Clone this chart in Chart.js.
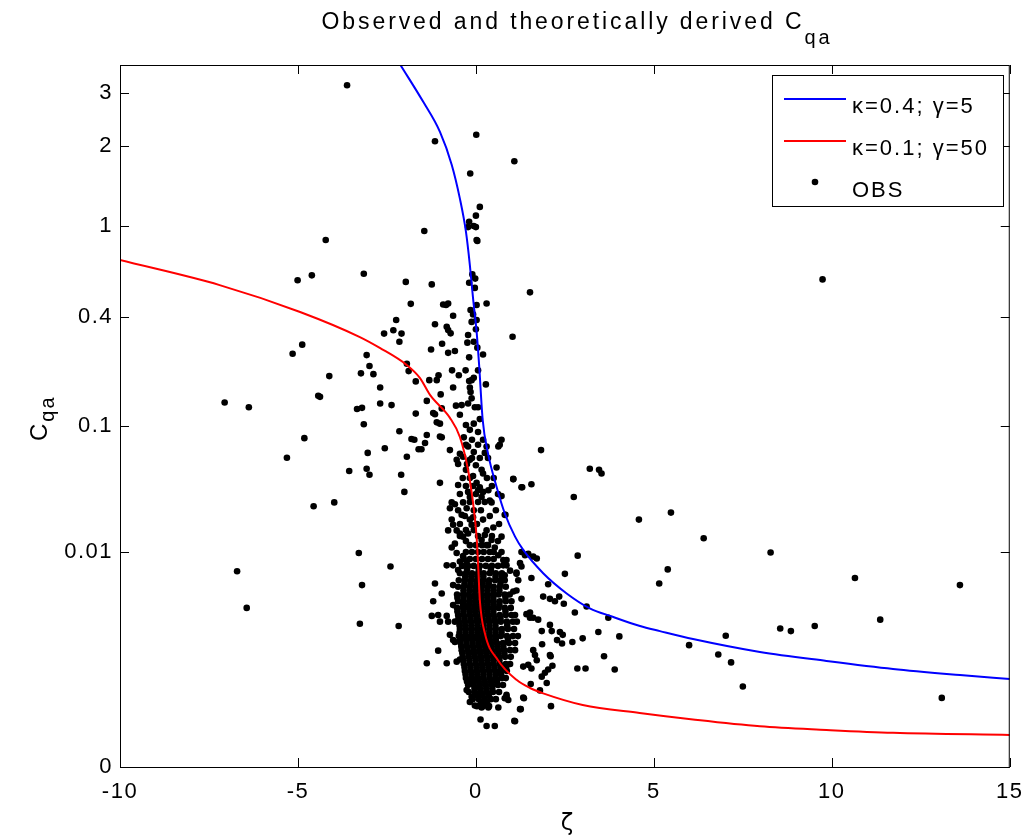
<!DOCTYPE html>
<html>
<head>
<meta charset="utf-8">
<script src="https://cdn.jsdelivr.net/npm/chart.js@4/dist/chart.umd.min.js"></script>
<style>
  html, body { margin: 0; padding: 0; background: #fff; }
  #wrap { width: 1034px; height: 839px; position: relative; }
</style>
</head>
<body>
<div id="wrap"><canvas id="chart"></canvas></div>
<script>
// axis ticks
const xTickValues = [-10, -5, 0, 5, 10, 15];
const xTickLabels = ['-10', '-5', '0', '5', '10', '15'];
const yTickValues = [0, 0.01, 0.1, 0.4, 1, 2, 3];
const yTickLabels = ['0', '0.01', '0.1', '0.4', '1', '2', '3'];

// theoretical curves, [zeta, Cqa]
const blueCurve = [[-2.12,3.68],[-1.48,2.81],[-1.01,2.23],[-0.68,1.71],[-0.45,1.28],[-0.28,0.949],[-0.17,0.688],
  [-0.08,0.488],[0.02,0.337],[0.09,0.227],[0.19,0.109],[0.34,0.0655],[0.58,0.0373],[0.81,0.0227],[1.1,0.014],
  [1.33,0.0104],[1.89,0.0059],[2.55,0.0034],[3.2,0.00217],[3.86,0.00164],[4.61,0.0012],[5.17,0.001],
  [6.1,0.00074],[7.98,0.000434],[9.85,0.000289],[11.72,0.000195],[13.6,0.000142],[15,0.000114]];
const redCurve = [[-10,0.723],[-7.2,0.561],[-4.94,0.421],[-3.26,0.317],[-2.7,0.279],[-1.95,0.227],[-1.57,0.192],
  [-1.29,0.154],[-0.73,0.112],[-0.45,0.0845],[-0.22,0.0499],[-0.08,0.0277],[0.02,0.0139],[0.07,0.0063],
  [0.11,0.0028],[0.25,0.00093],[0.62,0.0003],[1.15,0.000107],[1.52,0.0000664],[1.89,0.0000468],[3.0,0.0000198],
  [4.6,0.0000099],[6.1,0.0000052],[7.98,0.0000024],[9.85,0.0000015],[11.72,0.000001],[15,0.00000073]];

// observations, [zeta, Cqa]
const obsPoints = [
  [-3.62,3.18],[-4.22,0.877],[-5.01,0.59],[-4.61,0.62],[-3.15,0.63],[-1.97,0.58],[-1.83,0.46],[-2.24,0.385],
  [-2.32,0.343],[-2.58,0.33],[-2.09,0.33],[-2.15,0.30],[-4.88,0.29],[-5.15,0.26],[-3.07,0.256],[-2.99,0.224],
  [-3.23,0.204],[-2.88,0.202],[-4.12,0.197],[-1.94,0.23],[-1.89,0.21],[-1.69,0.184],[-2.69,0.17],[-4.43,0.152],
  [-4.38,0.15],[-7.06,0.139],[-6.38,0.13],[-3.34,0.127],[-3.2,0.129],[-2.69,0.137],[-2.37,0.134],[-1.69,0.119],
  [-3.15,0.102],[-2.15,0.092],[-4.82,0.083],[-1.81,0.082],[-1.73,0.081],[-1.61,0.07],[-2.56,0.071],[-3.04,0.066],
  [-5.31,0.061],[-1.94,0.062],[-3.56,0.049],[-3.07,0.051],[-2.99,0.046],[-2.1,0.046],[-2.01,0.034],[-4.56,0.026],
  [-3.98,0.028],[-3.29,0.0097],[-2.4,0.007],[-6.71,0.0062],[-3.2,0.0043],[-6.44,0.0022],[-3.26,0.0013],[-2.17,0.0012],
  [0.01,2.18],[-1.15,2.07],[1.08,1.76],[-0.16,1.59],[-1.45,0.955],[0.11,1.19],[0.0,1.10],[-0.19,1.04],[-0.22,0.99],
  [-0.06,1.0],[0.0,0.99],[0.02,0.877],[0.04,0.87],[-1.24,0.565],[1.52,0.52],[-0.10,0.626],[-0.02,0.60],[-0.19,0.575],
  [-0.03,0.545],[-0.92,0.457],[-0.84,0.454],[-0.78,0.462],[0.3,0.462],[0.02,0.454],[-0.15,0.43],[-0.08,0.41],
  [-0.64,0.404],[-1.15,0.367],[-0.12,0.377],[0.02,0.385],[-0.82,0.357],[-0.78,0.344],[-0.71,0.331],[0.0,0.347],
  [1.03,0.318],[-0.22,0.325],[-0.24,0.297],[-0.06,0.30],[-0.95,0.293],[-1.26,0.274],[-0.78,0.263],[-0.59,0.269],
  [0.04,0.28],[-0.19,0.249],[0.2,0.258],[-0.67,0.212],[-0.29,0.212],[-0.48,0.199],[0.06,0.212],[-1.05,0.199],
  [-1.1,0.187],[-1.31,0.187],[-0.06,0.193],[-0.12,0.187],[-0.19,0.185],[0.28,0.177],[-0.99,0.155],[-0.64,0.17],
  [-0.17,0.17],[-0.15,0.16],[-0.12,0.147],[-1.38,0.142],[-1.2,0.12],[-1.15,0.118],[-0.96,0.128],[-0.56,0.133],
  [-0.4,0.134],[-0.22,0.137],[-0.45,0.117],[-0.03,0.13],[0.06,0.13],[0.11,0.11],
  [-1.1,0.105],[-1.01,0.103],[-1.38,0.087],[-1.43,0.077],[-1.01,0.085],[-0.96,0.084],[-1.53,0.07],[-0.73,0.069],
  [0.67,0.075],[0.63,0.073],[0.2,0.081],[0.3,0.073],[0.25,0.066],[-0.45,0.065],[-0.36,0.062],[-0.54,0.059],
  [0.58,0.052],[1.05,0.043],[1.28,0.037],[-1.01,0.04],[-0.5,0.0385],[0.16,0.05],[0.2,0.047],[0.02,0.04],
  [0.11,0.037],[0.06,0.035],[0.2,0.034],[0.35,0.035],[0.16,0.031],[0.39,0.029],[0.44,0.028],[-0.68,0.028],
  [-0.59,0.027],[-0.73,0.025],[-0.36,0.028],[-0.26,0.025],[-0.4,0.022],[-0.22,0.034],[-0.17,0.031],[0.81,0.022],
  [0.49,0.017],[-0.68,0.02],[-0.64,0.018],[-0.54,0.016],[-0.78,0.016],[-0.45,0.015],[-0.36,0.014],[-0.59,0.012],
  [-0.68,0.011],[-0.17,0.02],[-0.12,0.018],[-0.22,0.015],[-0.08,0.021],[0.2,0.02],[0.3,0.016],[0.25,0.0145],
  [0.16,0.013],[0.3,0.0116],[0.44,0.013],[0.53,0.011],[0.72,0.0099],[0.63,0.0092],[0.86,0.0082],[0.77,0.0072],
  [0.96,0.0063],[0.72,0.0055],[1.14,0.006],[1.19,0.0049],[1.24,0.0076],[1.47,0.0095],[-0.82,0.0072],[-0.64,0.0072],
  [-1.15,0.0045],[-0.64,0.0043],[-0.96,0.0034],[-0.54,0.0097],[-0.36,0.009],[-0.45,0.0079],[-0.26,0.0076],[-0.5,0.0064],
  [-0.28,0.101],[-0.17,0.094],[-0.06,0.103],[0.06,0.091],[-0.34,0.084],[-0.11,0.081],[-0.22,0.073],[-0.06,0.067],
  [-0.17,0.059],[0.0,0.054],[-0.28,0.05],[-0.08,0.045],
  [-0.28,0.075],[0.06,0.075],[-0.11,0.0608],[0.11,0.0608],[0.34,0.0608],[-0.5,0.0551],[-0.25,0.0551],
  [-0.37,0.0435],[-0.17,0.0435],[0.31,0.0435],[0.5,0.0435],[-0.28,0.0378],[-0.08,0.0378],[0.45,0.0378],
  [-0.45,0.0327],[0.0,0.0327],[0.62,0.0327],[-0.17,0.0282],[0.06,0.0282],[0.25,0.0282],
  [-0.5,0.0241],[-0.06,0.0241],[0.14,0.0241],[0.56,0.0241],[-0.31,0.0215],[0.39,0.0215],
  [-0.45,0.0183],[0.03,0.0183],[0.65,0.0183],[-0.28,0.0161],[-0.06,0.0161],[-0.45,0.0142],[0.06,0.0142],
  [0.45,0.0142],[-0.28,0.0127],[0.62,0.0127],
  [-1.2,0.0027],[-0.64,0.0024],[-1.24,0.0017],[-1.06,0.00175],[-0.82,0.0017],[-0.59,0.0014],[-1.01,0.0014],
  [-0.78,0.0014],[-0.73,0.00087],[-0.64,0.00071],[-0.59,0.00066],[-1.06,0.00046],[-1.38,0.00026],[-0.82,0.00026],
  [-0.54,0.00028],[-0.45,0.00031],[-0.26,0.000058],[-0.12,0.000037],[-0.17,0.000025],[-0.03,0.000019],[0.16,0.000016],
  [0.35,0.000016],[0.63,0.000016],[0.13,0.0000052],[0.3,0.0000025],[0.53,0.0000025],[1.1,0.0000043],[1.24,0.000014],
  [1.33,0.000035],[0.86,0.000038],[0.91,0.000029],[1.42,0.0018],[1.52,0.0016],
  [0.72,0.081],[1.83,0.069],[3.2,0.051],[3.46,0.05],[3.53,0.047],[1.05,0.0425],[1.3,0.037],[1.56,0.039],
  [2.75,0.031],[4.58,0.02],[0.72,0.0315],[0.83,0.022],[0.72,0.014],[2.86,0.0091],[1.28,0.0099],[1.38,0.0092],
  [1.61,0.0089],[1.71,0.0085],[0.77,0.0082],[0.86,0.0072],[0.81,0.0056],[1.28,0.007],[1.14,0.0058],[1.56,0.0052],
  [2.5,0.0058],[2.03,0.0044],[1.05,0.0036],[1.14,0.0037],[1.89,0.0031],[2.08,0.0029],[2.22,0.0027],[2.34,0.0031],
  [2.47,0.0025],[1.28,0.0029],[2.78,0.0019],[3.11,0.0023],[3.72,0.0016],[1.52,0.0019],[1.61,0.0016],[1.75,0.0015],
  [2.08,0.00125],[2.13,0.001],[1.85,0.001],[2.36,0.00097],[2.44,0.00087],[2.28,0.00071],[2.42,0.00062],[2.71,0.00066],
  [3.0,0.00076],[3.44,0.00097],[4.03,0.00082],[1.86,0.0006],[2.08,0.00038],[2.1,0.00036],[1.61,0.00047],[1.66,0.00038],
  [1.71,0.0003],[2.15,0.00023],[2.03,0.00019],[1.94,0.00016],[1.85,0.00013],[1.47,0.00024],[1.56,0.0002],[1.33,0.00022],
  [3.6,0.00036],[2.85,0.0002],[3.08,0.0002],[3.9,0.00019],[1.54,0.000085],[1.99,0.00009],[1.8,0.000057],[1.35,0.000033],
  [2.11,0.000018],[1.26,0.000014],[1.08,0.0000045],[0.86,0.000042],[0.81,0.000033],
  [9.74,0.595],[5.48,0.023],[6.4,0.0135],[8.28,0.0098],[5.39,0.0065],[5.15,0.0045],[10.65,0.0052],[13.6,0.0043],
  [11.36,0.0015],[9.52,0.0012],[8.55,0.0011],[8.85,0.001],[7.02,0.00084],[5.99,0.00058],[6.81,0.00039],[7.17,0.00027],
  [7.5,0.000073],[13.09,0.000034],
  // dense core near zeta = 0
  [-0.17,0.0116],[0.0,0.0116],[0.17,0.0116],[0.34,0.0116],
  [-0.28,0.0099],[-0.11,0.0099],[0.06,0.0099],[0.22,0.0099],[0.39,0.0099],[0.5,0.0099],
  [-0.34,0.0084],[-0.17,0.0084],[0.0,0.0084],[0.17,0.0084],[0.34,0.0084],[0.5,0.0084],
  [-0.39,0.0071],[-0.22,0.0071],[-0.06,0.0071],[0.11,0.0071],[0.28,0.0071],[0.45,0.0071],[0.62,0.0071],
  [-0.25,0.0065],[0.08,0.0065],[0.42,0.0065],
  [-0.45,0.0059],[-0.28,0.0059],[-0.11,0.0059],[0.06,0.0059],[0.22,0.0059],[0.39,0.0059],[0.56,0.0059],[0.73,0.0059],
  [-0.3,0.0054],[-0.13,0.0054],[0.04,0.0054],[0.21,0.0054],[0.55,0.0054],
  [-0.48,0.0049],[-0.31,0.0049],[-0.14,0.0049],[0.03,0.0049],[0.2,0.0049],[0.37,0.0049],[0.54,0.0049],[0.7,0.0049],[0.81,0.0049],
  [-0.32,0.0045],[-0.15,0.0045],[0.02,0.0045],[0.19,0.0045],[0.36,0.0045],[0.69,0.0045],
  [-0.5,0.0041],[-0.34,0.0041],[-0.17,0.0041],[0.0,0.0041],[0.17,0.0041],[0.34,0.0041],[0.5,0.0041],[0.67,0.0041],[0.84,0.0041],
  [-0.35,0.0037],[-0.18,0.0037],[-0.02,0.0037],[0.15,0.0037],[0.32,0.0037],[0.49,0.0037],[0.66,0.0037],
  [-0.53,0.0033],[-0.36,0.0033],[-0.2,0.0033],[-0.03,0.0033],[0.14,0.0033],[0.31,0.0033],[0.48,0.0033],[0.64,0.0033],[0.81,0.0033],[0.95,0.0033],
  [-0.52,0.003],[-0.35,0.003],[-0.18,0.003],[-0.02,0.003],[0.15,0.003],[0.32,0.003],[0.49,0.003],[0.83,0.003],
  [-0.5,0.0027],[-0.34,0.0027],[-0.17,0.0027],[0.0,0.0027],[0.17,0.0027],[0.34,0.0027],[0.5,0.0027],[0.67,0.0027],[0.84,0.0027],[1.0,0.0027],
  [-0.36,0.00245],[-0.19,0.00245],[-0.02,0.00245],[0.15,0.00245],[0.32,0.00245],[0.49,0.00245],[0.66,0.00245],
  [-0.53,0.0022],[-0.36,0.0022],[-0.2,0.0022],[-0.03,0.0022],[0.14,0.0022],[0.31,0.0022],[0.48,0.0022],[0.64,0.0022],[0.81,0.0022],[0.98,0.0022],
  [-0.52,0.00196],[-0.35,0.00196],[-0.18,0.00196],[-0.02,0.00196],[0.15,0.00196],[0.32,0.00196],[0.49,0.00196],[0.83,0.00196],
  [-0.5,0.00175],[-0.34,0.00175],[-0.17,0.00175],[0.0,0.00175],[0.17,0.00175],[0.34,0.00175],[0.5,0.00175],[0.67,0.00175],[0.84,0.00175],[1.0,0.00175],[1.1,0.00175],
  [-0.49,0.00156],[-0.32,0.00156],[-0.15,0.00156],[0.02,0.00156],[0.18,0.00156],[0.35,0.00156],[0.52,0.00156],[0.69,0.00156],
  [-0.48,0.0014],[-0.31,0.0014],[-0.14,0.0014],[0.03,0.0014],[0.2,0.0014],[0.37,0.0014],[0.54,0.0014],[0.7,0.0014],[0.87,0.0014],[1.04,0.0014],[1.15,0.0014],
  [-0.46,0.00122],[-0.3,0.00122],[-0.13,0.00122],[0.04,0.00122],[0.21,0.00122],[0.38,0.00122],[0.55,0.00122],[0.88,0.00122],
  [-0.45,0.00108],[-0.28,0.00108],[-0.11,0.00108],[0.06,0.00108],[0.22,0.00108],[0.39,0.00108],[0.56,0.00108],[0.73,0.00108],[0.9,0.00108],[1.07,0.00108],
  [-0.46,0.00095],[-0.29,0.00095],[-0.12,0.00095],[0.05,0.00095],[0.21,0.00095],[0.38,0.00095],[0.55,0.00095],[0.72,0.00095],
  [-0.48,0.00083],[-0.31,0.00083],[-0.14,0.00083],[0.03,0.00083],[0.2,0.00083],[0.37,0.00083],[0.54,0.00083],[0.7,0.00083],[0.87,0.00083],[1.04,0.00083],[1.18,0.00083],
  [-0.45,0.00073],[-0.28,0.00073],[-0.11,0.00073],[0.06,0.00073],[0.22,0.00073],[0.39,0.00073],[0.56,0.00073],[0.9,0.00073],
  [-0.43,0.00063],[-0.26,0.00063],[-0.09,0.00063],[0.08,0.00063],[0.25,0.00063],[0.42,0.00063],[0.59,0.00063],[0.76,0.00063],[0.93,0.00063],[1.1,0.00063],
  [-0.41,0.00055],[-0.25,0.00055],[-0.08,0.00055],[0.09,0.00055],[0.26,0.00055],[0.43,0.00055],[0.6,0.00055],[0.77,0.00055],
  [-0.4,0.00047],[-0.23,0.00047],[-0.06,0.00047],[0.11,0.00047],[0.28,0.00047],[0.45,0.00047],[0.62,0.00047],[0.79,0.00047],[0.96,0.00047],[1.1,0.00047],
  [-0.38,0.00041],[-0.21,0.00041],[-0.05,0.00041],[0.12,0.00041],[0.29,0.00041],[0.46,0.00041],[0.63,0.00041],[0.8,0.00041],
  [-0.37,0.00035],[-0.2,0.00035],[-0.03,0.00035],[0.14,0.00035],[0.31,0.00035],[0.48,0.00035],[0.65,0.00035],[0.82,0.00035],[0.98,0.00035],
  [-0.35,0.0003],[-0.18,0.0003],[-0.01,0.0003],[0.15,0.0003],[0.32,0.0003],[0.49,0.0003],[0.66,0.0003],
  [-0.34,0.00025],[-0.17,0.00025],[0.0,0.00025],[0.17,0.00025],[0.34,0.00025],[0.5,0.00025],[0.67,0.00025],[0.84,0.00025],[0.96,0.00025],
  [-0.32,0.00021],[-0.15,0.00021],[0.02,0.00021],[0.18,0.00021],[0.35,0.00021],[0.52,0.00021],[0.69,0.00021],[0.85,0.00021],
  [-0.31,0.000176],[-0.14,0.000176],[0.03,0.000176],[0.2,0.000176],[0.37,0.000176],[0.54,0.000176],[0.7,0.000176],[0.87,0.000176],
  [-0.29,0.000146],[-0.12,0.000146],[0.04,0.000146],[0.21,0.000146],[0.38,0.000146],[0.55,0.000146],[0.71,0.000146],
  [-0.28,0.00012],[-0.11,0.00012],[0.06,0.00012],[0.22,0.00012],[0.39,0.00012],[0.56,0.00012],[0.73,0.00012],[0.84,0.00012],
  [-0.25,0.0000986],[-0.08,0.0000986],[0.08,0.0000986],[0.25,0.0000986],[0.42,0.0000986],[0.59,0.0000986],
  [-0.22,0.00008],[-0.06,0.00008],[0.11,0.00008],[0.28,0.00008],[0.45,0.00008],[0.62,0.00008],[0.76,0.00008],
  [-0.04,0.0000643],[0.12,0.0000643],[0.29,0.0000643],[0.46,0.0000643],
  [-0.2,0.000051],[-0.03,0.000051],[0.14,0.000051],[0.31,0.000051],[0.48,0.000051],[0.65,0.000051],
  [0.03,0.0000403],[0.19,0.0000403],[0.36,0.0000403],
  [-0.09,0.000031],[0.08,0.000031],[0.25,0.000031],[0.42,0.000031],[0.56,0.000031],
  [0.14,0.0000241],[0.31,0.0000241],
  [0.03,0.000018],[0.2,0.000018],[0.37,0.000018]
];

const Y_EXP = 0.2; // y axis is drawn in Cqa^(1/5)

// power scale: pixel position follows value^Y_EXP
class PowerScale extends Chart.LinearScale {
  getPixelForValue(value) {
    const lo = Math.pow(this.min, Y_EXP), hi = Math.pow(this.max, Y_EXP);
    return this.getPixelForDecimal((Math.pow(Math.max(value, 0), Y_EXP) - lo) / (hi - lo));
  }
  getValueForPixel(pixel) {
    const lo = Math.pow(this.min, Y_EXP), hi = Math.pow(this.max, Y_EXP);
    return Math.pow(lo + this.getDecimalForPixel(pixel) * (hi - lo), 1 / Y_EXP);
  }
}
PowerScale.id = 'power';
Chart.register(PowerScale);

function toXY(pairs) {
  return pairs.map(p => ({ x: p[0], y: p[1] }));
}

// frame, inward ticks, title, axis labels and legend in the matlab look
const matlabFrame = {
  id: 'matlabFrame',
  beforeDraw(chart) {
    const ctx = chart.ctx;
    ctx.save();
    ctx.fillStyle = '#fff';
    ctx.fillRect(0, 0, chart.width, chart.height);
    ctx.restore();
    ctx.letterSpacing = '1.5px';
  },
  afterDraw(chart) {
    const ctx = chart.ctx;
    const a = chart.chartArea;
    const xs = chart.scales.x, ys = chart.scales.y;
    ctx.save();
    ctx.strokeStyle = '#000';
    ctx.lineWidth = 1;
    ctx.strokeRect(a.left + 0.5, a.top + 0.5, a.right - a.left - 1, a.bottom - a.top);
    ctx.beginPath();
    xs.ticks.forEach(t => {
      const px = Math.round(xs.getPixelForValue(t.value)) + 0.5;
      ctx.moveTo(px, a.bottom); ctx.lineTo(px, a.bottom - 9);
      ctx.moveTo(px, a.top); ctx.lineTo(px, a.top + 9);
    });
    ys.ticks.forEach(t => {
      const py = Math.round(ys.getPixelForValue(t.value)) + 0.5;
      ctx.moveTo(a.left, py); ctx.lineTo(a.left + 9, py);
      ctx.moveTo(a.right, py); ctx.lineTo(a.right - 9, py);
    });
    ctx.stroke();

    // title
    ctx.fillStyle = '#000';
    ctx.textAlign = 'left';
    ctx.textBaseline = 'alphabetic';
    ctx.letterSpacing = '2.9px';
    ctx.font = '23px "Liberation Sans"';
    const main = 'Observed and theoretically derived C';
    const w = ctx.measureText(main).width;
    ctx.font = '20px "Liberation Sans"';
    const ws = ctx.measureText('qa').width;
    const tx = 577 - (w + ws) / 2;
    ctx.font = '23px "Liberation Sans"';
    ctx.fillText(main, tx, 29);
    ctx.font = '20px "Liberation Sans"';
    ctx.fillText('qa', tx + w, 44);

    // x label
    ctx.font = '23px "DejaVu Sans"';
    ctx.letterSpacing = '0px';
    ctx.textAlign = 'center';
    ctx.fillText('\u03b6', (a.left + a.right) / 2 + 2, 830);

    // y label
    ctx.save();
    ctx.translate(47, 441);
    ctx.rotate(-Math.PI / 2);
    ctx.textAlign = 'left';
    ctx.letterSpacing = '2px';
    ctx.font = '24px "Liberation Sans"';
    ctx.fillText('C', 0, 0);
    const wc = ctx.measureText('C').width;
    ctx.font = '20px "Liberation Sans"';
    ctx.fillText('qa', wc, 7);
    ctx.restore();

    // legend
    const lx = 772.5, ly = 75.5, lw = 231, lh = 131;
    ctx.fillStyle = '#fff';
    ctx.fillRect(lx, ly, lw, lh);
    ctx.strokeStyle = '#000';
    ctx.lineWidth = 1;
    ctx.strokeRect(lx, ly, lw, lh);
    ctx.font = '22px "Liberation Sans"';
    ctx.letterSpacing = '2px';
    ctx.textAlign = 'left';
    chart.data.datasets.forEach((ds, i) => {
      const rowY = 99 + i * 42;
      if (ds.showLine) {
        ctx.strokeStyle = ds.borderColor;
        ctx.lineWidth = 2;
        ctx.beginPath();
        ctx.moveTo(784, rowY); ctx.lineTo(846, rowY);
        ctx.stroke();
      } else {
        ctx.fillStyle = ds.backgroundColor;
        ctx.beginPath();
        ctx.arc(815, rowY - 1, 3.3, 0, Math.PI * 2);
        ctx.fill();
      }
      ctx.fillStyle = '#000';
      ctx.fillText(ds.label, 852, rowY + 14);
    });
    ctx.restore();
  }
};

Chart.defaults.font.family = '"Liberation Sans"';
Chart.defaults.font.size = 22;
Chart.defaults.color = '#000';

new Chart(document.getElementById('chart'), {
  type: 'scatter',
  data: {
    datasets: [
      {
        label: '\u03ba=0.4; \u03b3=5',
        data: toXY(blueCurve),
        showLine: true,
        borderColor: '#0000ff',
        backgroundColor: '#0000ff',
        borderWidth: 2,
        pointRadius: 0,
        cubicInterpolationMode: 'monotone',
        order: 0
      },
      {
        label: '\u03ba=0.1; \u03b3=50',
        data: toXY(redCurve),
        showLine: true,
        borderColor: '#ff0000',
        backgroundColor: '#ff0000',
        borderWidth: 2,
        pointRadius: 0,
        cubicInterpolationMode: 'monotone',
        order: 1
      },
      {
        label: 'OBS',
        data: toXY(obsPoints),
        showLine: false,
        backgroundColor: '#000',
        borderColor: '#000',
        borderWidth: 0,
        pointRadius: 3.3,
        order: 2
      }
    ]
  },
  options: {
    responsive: true,
    maintainAspectRatio: false,
    animation: false,
    events: [],
    layout: { padding: { top: 65, right: 24, bottom: 0, left: 0 } },
    plugins: { legend: { display: false }, tooltip: { enabled: false }, title: { display: false } },
    scales: {
      x: {
        type: 'linear',
        position: 'bottom',
        min: -10,
        max: 15,
        afterBuildTicks: s => { s.ticks = xTickValues.map(v => ({ value: v })); },
        afterFit: s => { s.height = 72; },
        grid: { display: false, drawTicks: false },
        border: { display: false },
        ticks: {
          padding: 12,
          autoSkip: false,
          maxRotation: 0,
          font: { size: 22 },
          callback: v => xTickLabels[xTickValues.indexOf(v)]
        }
      },
      y: {
        type: 'power',
        position: 'left',
        min: 0,
        max: 3.68,
        afterBuildTicks: s => { s.ticks = yTickValues.map(v => ({ value: v })); },
        afterFit: s => { s.width = 120; },
        grid: { display: false, drawTicks: false },
        border: { display: false },
        ticks: {
          padding: 7,
          autoSkip: false,
          font: { size: 22 },
          callback: v => yTickLabels[yTickValues.indexOf(v)]
        }
      }
    }
  },
  plugins: [matlabFrame]
});
</script>
</body>
</html>
